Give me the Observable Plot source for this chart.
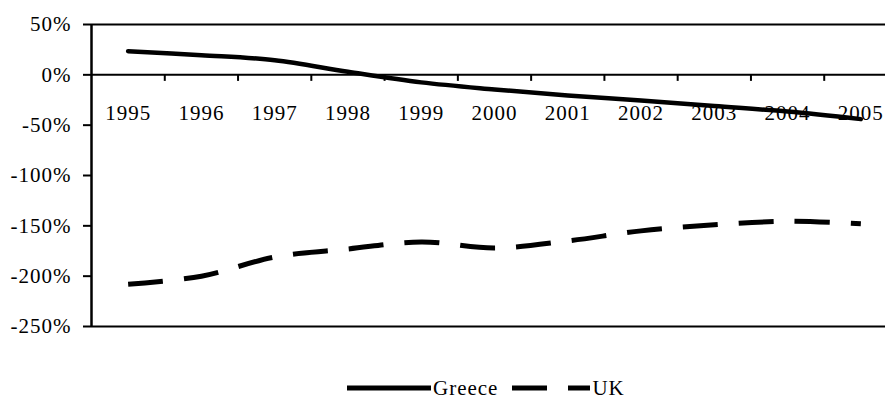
<!DOCTYPE html>
<html>
<head>
<meta charset="utf-8">
<script src="https://cdn.jsdelivr.net/npm/d3@7"></script>
<script src="https://cdn.jsdelivr.net/npm/@observablehq/plot@0.6"></script>
<style>
  html, body { margin: 0; padding: 0; background: #fff; overflow: hidden; }
  #wrap { position: relative; width: 885px; height: 401px; font-family: "Liberation Serif", serif; }
  #legend { position: absolute; left: 347px; top: 374px; height: 28px; display: flex; align-items: center; font-size: 21px; letter-spacing: 1px; color: #000; }
  #legend .item { display: flex; align-items: center; }
  #legend svg { display: block; }
</style>
</head>
<body>
<div id="wrap"><div id="chart"></div><div id="legend"></div></div>
<script>
const years = [1995, 1996, 1997, 1998, 1999, 2000, 2001, 2002, 2003, 2004, 2005];
const greece = [23.5, 19.5, 14.5, 3, -7.5, -14.5, -20.5, -25.5, -31, -36.5, -44];
const uk = [-208, -200, -181, -173, -166, -172, -165, -155, -149, -145.5, -148];
const yTicks = [50, 0, -50, -100, -150, -200, -250];
const seriesNames = ["Greece", "UK"];

const greeceData = years.map((y, i) => ({year: y, value: greece[i]}));
const ukData = years.map((y, i) => ({year: y, value: uk[i]}));
const boundaries = years.slice(0, -1).map(y => y + 0.5);

const plot = Plot.plot({
  width: 885,
  height: 370,
  marginLeft: 91,
  marginRight: -12,
  marginTop: 24,
  marginBottom: 44,
  style: {fontFamily: "Liberation Serif, serif", fontSize: "21px", letterSpacing: "1px", color: "#000", background: "#fff", overflow: "hidden"},
  x: {domain: [1994.5, 2005.5], axis: null},
  y: {domain: [-250, 50], axis: null},
  marks: [
    Plot.ruleY([50, -250], {stroke: "#000", strokeWidth: 2}),
    Plot.ruleY([0], {stroke: "#000", strokeWidth: 2}),
    Plot.ruleX(boundaries, {y1: 0, y2: -6.5, stroke: "#000", strokeWidth: 2}),
    Plot.ruleX([1994.5], {y1: -250, y2: 50, stroke: "#000", strokeWidth: 2.5}),
    Plot.axisY({ticks: yTicks, label: null, tickFormat: d => d + "%", tickSize: 8, tickPadding: 12, stroke: "#000", strokeWidth: 2, fontSize: 21}),
    Plot.text(years, {x: d => d, y: 0, dy: 38, text: d => String(d), fontSize: 21, fill: "#000"}),
    Plot.line(greeceData, {x: "year", y: "value", stroke: "#000", strokeWidth: 4.5, curve: "catmull-rom", strokeLinecap: "round"}),
    Plot.line(ukData, {x: "year", y: "value", stroke: "#000", strokeWidth: 5, curve: "catmull-rom", strokeDasharray: "35,21", strokeLinecap: "butt"})
  ]
});
document.getElementById("chart").appendChild(plot);

const legend = document.getElementById("legend");
const samples = [
  {name: seriesNames[0], len: 84, dash: null},
  {name: seriesNames[1], len: 78, dash: "35,21"}
];
samples.forEach((s, i) => {
  const item = document.createElement("div");
  item.className = "item";
  if (i > 0) item.style.marginLeft = "14px";
  const svg = d3.create("svg").attr("width", s.len).attr("height", 12);
  svg.append("line").attr("x1", 0).attr("x2", s.len).attr("y1", 6).attr("y2", 6)
    .attr("stroke", "#000").attr("stroke-width", 5)
    .attr("stroke-dasharray", s.dash)
    .attr("stroke-linecap", s.dash ? "butt" : "round");
  item.appendChild(svg.node());
  const t = document.createElement("span");
  t.textContent = s.name;
  t.style.marginLeft = "2px";
  item.appendChild(t);
  legend.appendChild(item);
});
</script>
</body>
</html>
